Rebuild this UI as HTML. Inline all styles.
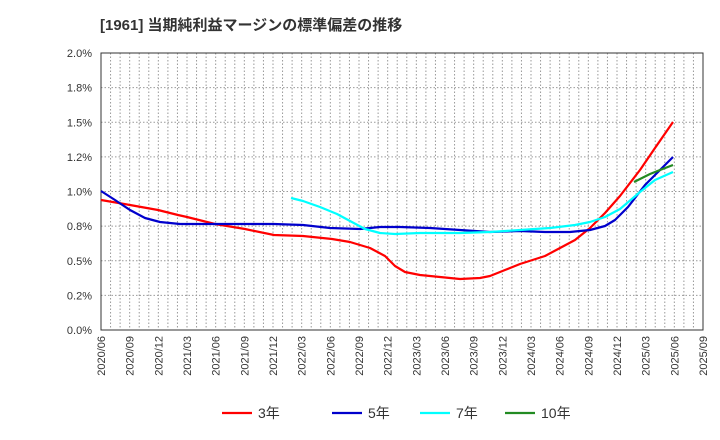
<!DOCTYPE html>
<html><head><meta charset="utf-8"><style>
body{margin:0;background:#fff;}
svg{display:block;font-family:"Liberation Sans","Noto Sans CJK JP",sans-serif;}
</style></head><body>
<svg width="720" height="440" viewBox="0 0 720 440">
<text x="100" y="30" font-size="15" font-weight="bold" fill="#333">[1961]  当期純利益マージンの標準偏差の推移</text>
<g id="grid" stroke="#999" stroke-dasharray="1.5,2" stroke-width="1"></g>
<rect x="101" y="53" width="602" height="277" fill="none" stroke="#333" stroke-width="1"/>
<g id="ylab" font-size="11" fill="#333" text-anchor="end"></g>
<g id="xlab" font-size="11" fill="#333"></g>
<g fill="none" stroke-width="2.2" stroke-linejoin="round">
<polyline stroke="#ff0000" points="101,200 130,205 158,210 178,215 187,217 215,224 245,229 274,235 303,236 332,239 350,242 370,248 385,256 395,266 405,272 420,275 440,277 460,279 480,278 490,276 505,270 520,264 545,256 560,248 575,240 590,228 605,213 620,196 640,170 655,148 673,122"/>
<polyline stroke="#0000cc" points="101,191 115,200 130,210 145,218 160,222 180,224 215,224 274,224 303,225 330,228 360,229 380,227 400,227 430,228 460,230 490,232 520,231 545,232 570,232 590,230 605,226 615,220 628,207 645,185 660,170 673,157"/>
<polyline stroke="#00ffff" points="291,198 303,201 320,207 337,214 350,221 365,229 380,233 395,234 420,233 460,233 490,232 520,230 550,228 575,225 590,222 605,217 620,209 640,192 655,180 673,172"/>
<polyline stroke="#228b22" points="634,182 650,174 660,170 673,165"/>
</g>
<g font-size="14" fill="#333">
<line x1="222" y1="413" x2="252" y2="413" stroke="#ff0000" stroke-width="2.2"/><text x="258" y="418">3年</text>
<line x1="332" y1="413" x2="362" y2="413" stroke="#0000cc" stroke-width="2.2"/><text x="368" y="418">5年</text>
<line x1="420" y1="413" x2="450" y2="413" stroke="#00ffff" stroke-width="2.2"/><text x="456" y="418">7年</text>
<line x1="505" y1="413" x2="535" y2="413" stroke="#228b22" stroke-width="2.2"/><text x="541" y="418">10年</text>
</g>
</svg>
<script>
var ns="http://www.w3.org/2000/svg",g=document.getElementById('grid'),yl=document.getElementById('ylab'),xl=document.getElementById('xlab');
function el(p,t,a){var e=document.createElementNS(ns,t);for(var k in a)e.setAttribute(k,a[k]);p.appendChild(e);return e;}
for(var m=1;m<63;m++){var x=101+m*602/63;el(g,'line',{x1:x,y1:53,x2:x,y2:330});}
var yt=["0.0%","0.2%","0.5%","0.8%","1.0%","1.2%","1.5%","1.8%","2.0%"];
for(var i=0;i<9;i++){var y=330-i*277/8;if(i>0&&i<8)el(g,'line',{x1:101,y1:y,x2:703,y2:y});el(yl,'text',{x:92,y:y+4}).textContent=yt[i];}
var ym=2020,mo=6;
for(var j=0;j<22;j++){var x=101+j*3*602/63;var t=el(xl,'text',{transform:'translate('+(x+4)+',336) rotate(-90)','text-anchor':'end'});t.textContent=ym+'/'+(mo<10?'0':'')+mo;mo+=3;if(mo>12){mo-=12;ym++;}}
</script>
</body></html>
